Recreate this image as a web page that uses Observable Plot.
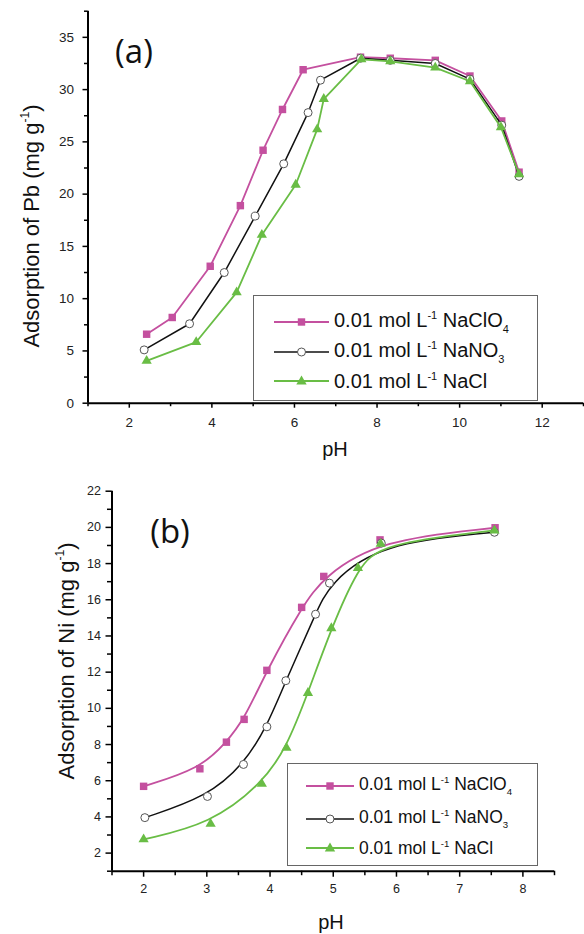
<!DOCTYPE html>
<html><head><meta charset="utf-8">
<script src="https://cdn.jsdelivr.net/npm/d3@7"></script>
<script src="https://cdn.jsdelivr.net/npm/@observablehq/plot@0.6"></script>
<style>
html,body{margin:0;padding:0;background:#fff;}
#chart{position:relative;width:584px;height:934px;overflow:hidden;font-family:"Liberation Sans",Arial,sans-serif;color:#111;}
#chart svg.plot{position:absolute;left:0;}
.lab{position:absolute;white-space:nowrap;transform:translate(-50%,-50%);line-height:1;}
.rot{transform:translate(-50%,-50%) rotate(-90deg);}
.sup{font-size:0.55em;vertical-align:0.75em;}
.sub{font-size:0.55em;vertical-align:-0.5em;}
.panel{font-family:"Open Sans","Noto Sans",sans-serif;}
.legend{position:absolute;border:1.3px solid #666;box-sizing:border-box;background:#fff;}
.row{position:absolute;left:0;display:flex;align-items:center;white-space:nowrap;line-height:1;}
.row svg{display:block;}
</style></head>
<body><div id="chart"></div>
<script>
// ---------- data ----------
const seriesNames = ["0.01 mol L-1 NaClO4", "0.01 mol L-1 NaNO3", "0.01 mol L-1 NaCl"];
// Panel (a): Pb
const pbPH_ClO4 = [2.42, 3.04, 3.96, 4.69, 5.24, 5.71, 6.21, 7.60, 8.32, 9.41, 10.25, 11.02, 11.44];
const pbClO4    = [6.6, 8.2, 13.1, 18.9, 24.2, 28.1, 31.9, 33.1, 33.0, 32.8, 31.3, 27.0, 22.1];
const pbPH_NO3  = [2.36, 3.46, 4.30, 5.05, 5.74, 6.33, 6.63, 7.60, 8.32, 9.41, 10.25, 11.02, 11.44];
const pbNO3     = [5.1, 7.6, 12.5, 17.9, 22.9, 27.8, 30.9, 33.0, 32.8, 32.5, 31.0, 26.6, 21.7];
const pbPH_Cl   = [2.42, 3.62, 4.60, 5.21, 6.03, 6.55, 6.71, 7.62, 8.32, 9.41, 10.25, 11.00, 11.44];
const pbCl      = [4.05, 5.85, 10.6, 16.1, 20.9, 26.2, 29.1, 32.9, 32.7, 32.1, 30.8, 26.4, 21.9];
// Panel (b): Ni
const niPH_ClO4 = [2.00, 2.89, 3.31, 3.59, 3.95, 4.50, 4.85, 5.74, 7.56];
const niClO4    = [5.69, 6.66, 8.13, 9.39, 12.1, 15.58, 17.29, 19.31, 19.98];
const niPH_NO3  = [2.02, 3.01, 3.58, 3.95, 4.25, 4.72, 4.94, 5.76, 7.55];
const niNO3     = [3.96, 5.13, 6.90, 8.98, 11.53, 15.2, 16.92, 19.13, 19.73];
const niPH_Cl   = [2.00, 3.06, 3.87, 4.26, 4.60, 4.97, 5.39, 5.75, 7.55];
const niCl      = [2.76, 3.62, 5.83, 7.82, 10.85, 14.43, 17.76, 19.09, 19.83];
// ticks
const aXMajor = [2, 4, 6, 8, 10, 12];
const aXMinor = [1, 3, 5, 7, 9, 11, 13];
const aYMajor = [0, 5, 10, 15, 20, 25, 30, 35];
const aYMinor = [2.5, 7.5, 12.5, 17.5, 22.5, 27.5, 32.5, 37.5];
const bXMajor = [2, 3, 4, 5, 6, 7, 8];
const bXMinor = [1.5, 2.5, 3.5, 4.5, 5.5, 6.5, 7.5, 8.5];
const bYMajor = [2, 4, 6, 8, 10, 12, 14, 16, 18, 20, 22];
const bYMinor = [1, 3, 5, 7, 9, 11, 13, 15, 17, 19, 21];

const MAG = "#c4509f", BLK = "#111", GRN = "#69bd45";
const rows = (xs, ys) => xs.map((x, i) => ({pH: x, v: ys[i]}));

function seriesMarks(sets, curve) {
  const [c, n, l] = sets;
  return [
    Plot.line(c, {x: "pH", y: "v", stroke: MAG, strokeWidth: 1.8, curve}),
    Plot.dot(c, {x: "pH", y: "v", symbol: "square", r: 4.2, fill: MAG, stroke: null}),
    Plot.line(n, {x: "pH", y: "v", stroke: BLK, strokeWidth: 1.5, curve}),
    Plot.dot(n, {x: "pH", y: "v", symbol: "circle", r: 4, fill: "#fff", stroke: "#555", strokeWidth: 1}),
    Plot.line(l, {x: "pH", y: "v", stroke: GRN, strokeWidth: 1.8, curve}),
    Plot.dot(l, {x: "pH", y: "v", symbol: "triangle", r: 3.8, fill: GRN, stroke: null})
  ];
}

const fmt = d => String(d);
function axes(xMaj, xMin, yMaj, yMin, xd, yd, fs, tsz, pads) {
  return [
    Plot.axisX({ticks: xMaj, tickSize: tsz, tickPadding: pads[0], tickFormat: fmt, label: null, fontSize: fs, stroke: "#000", strokeWidth: 1.5}),
    Plot.axisX({ticks: xMin, tickSize: tsz - 1.5, tickFormat: () => "", label: null, stroke: "#000", strokeWidth: 1.5}),
    Plot.axisY({ticks: yMaj, tickSize: tsz, tickPadding: pads[1], tickFormat: fmt, label: null, fontSize: fs, stroke: "#000", strokeWidth: 1.5}),
    Plot.axisY({ticks: yMin, tickSize: tsz - 1.5, tickFormat: () => "", label: null, stroke: "#000", strokeWidth: 1.5}),
    Plot.ruleX([xd[0]], {y1: yd[0], y2: yd[1], stroke: "#000", strokeWidth: 2}),
    Plot.ruleY([yd[0]], {x1: xd[0], x2: xd[1], stroke: "#000", strokeWidth: 2})
  ];
}

const chart = document.getElementById("chart");
const baseStyle = {fontFamily: "'Liberation Sans', Arial, sans-serif", color: "#222", background: "transparent", overflow: "visible"};

const pa = Plot.plot({
  width: 584, height: 468,
  marginLeft: 87.5, marginRight: 1, marginTop: 10.7, marginBottom: 65.3,
  style: baseStyle,
  x: {domain: [1, 13]}, y: {domain: [0, 37.5]},
  marks: [
    ...axes(aXMajor, aXMinor, aYMajor, aYMinor, [1, 13], [0, 37.5], 13.5, 5, [9, 9]),
    ...seriesMarks([rows(pbPH_ClO4, pbClO4), rows(pbPH_NO3, pbNO3), rows(pbPH_Cl, pbCl)], "linear")
  ]
});
pa.classList.add("plot"); pa.style.top = "0px";
chart.appendChild(pa);

const pb = Plot.plot({
  width: 584, height: 466,
  marginLeft: 111.5, marginRight: 30, marginTop: 22.7, marginBottom: 63.3,
  style: baseStyle,
  x: {domain: [1.5, 8.5]}, y: {domain: [1, 22]},
  marks: [
    ...axes(bXMajor, bXMinor, bYMajor, bYMinor, [1.5, 8.5], [1, 22], 12.5, 6, [7, 5]),
    ...seriesMarks([rows(niPH_ClO4, niClO4), rows(niPH_NO3, niNO3), rows(niPH_Cl, niCl)], "basis")
  ]
});
pb.classList.add("plot"); pb.style.top = "468px";
chart.appendChild(pb);

// ---------- text labels ----------
function lab(html, x, y, size, cls) {
  const d = document.createElement("div");
  d.className = "lab " + (cls || "");
  d.style.left = x + "px"; d.style.top = y + "px"; d.style.fontSize = size + "px";
  d.innerHTML = html;
  chart.appendChild(d);
}
lab('Adsorption of Pb (mg g<span class="sup">-1</span>)', 31, 226, 22, "rot");
lab('pH', 335, 449, 20);
lab('(a)', 134, 50, 33, "panel");
lab('Adsorption of Ni (mg g<span class="sup">-1</span>)', 66, 661, 22, "rot");
lab('pH', 331, 922, 20);
lab('(b)', 170, 530, 33, "panel");

// ---------- legends ----------
function legend(box, rowsY, lineX, fs) {
  const lg = document.createElement("div");
  lg.className = "legend";
  lg.style.left = box[0] + "px"; lg.style.top = box[1] + "px";
  lg.style.width = (box[2] - box[0]) + "px"; lg.style.height = (box[3] - box[1]) + "px";
  chart.appendChild(lg);
  const cols = [MAG, BLK, GRN];
  const labels = [
    '0.01 mol L<span class="sup">-1</span> NaClO<span class="sub">4</span>',
    '0.01 mol L<span class="sup">-1</span> NaNO<span class="sub">3</span>',
    '0.01 mol L<span class="sup">-1</span> NaCl'
  ];
  rowsY.forEach((ry, i) => {
    const r = document.createElement("div");
    r.className = "row";
    r.style.left = (lineX[0] - box[0]) + "px";
    r.style.top = (ry - box[1] - 10) + "px";
    r.style.height = "20px";
    r.style.fontSize = fs + "px";
    const w = lineX[1] - lineX[0];
    const m = w / 2;
    let marker;
    if (i === 0) marker = `<rect x="${m - 3.7}" y="6.3" width="7.4" height="7.4" fill="${MAG}"/>`;
    else if (i === 1) marker = `<circle cx="${m}" cy="10" r="4" fill="#fff" stroke="#555" stroke-width="1"/>`;
    else marker = `<path d="M${m},4.6L${m + 5.2},13.6L${m - 5.2},13.6Z" fill="${GRN}"/>`;
    r.innerHTML = `<svg width="${w}" height="20"><line x1="0" x2="${w}" y1="10" y2="10" stroke="${cols[i]}" stroke-width="${i === 1 ? 1.5 : 1.8}"/>${marker}</svg><span style="margin-left:${lineX[2]}px">${labels[i]}</span>`;
    lg.appendChild(r);
  });
}
legend([253, 295, 538, 401], [321, 351, 380], [273, 328, 5], 20);
legend([287, 763, 538, 866], [785, 818, 847], [305, 353, 5], 17.5);
</script>
</body></html>
